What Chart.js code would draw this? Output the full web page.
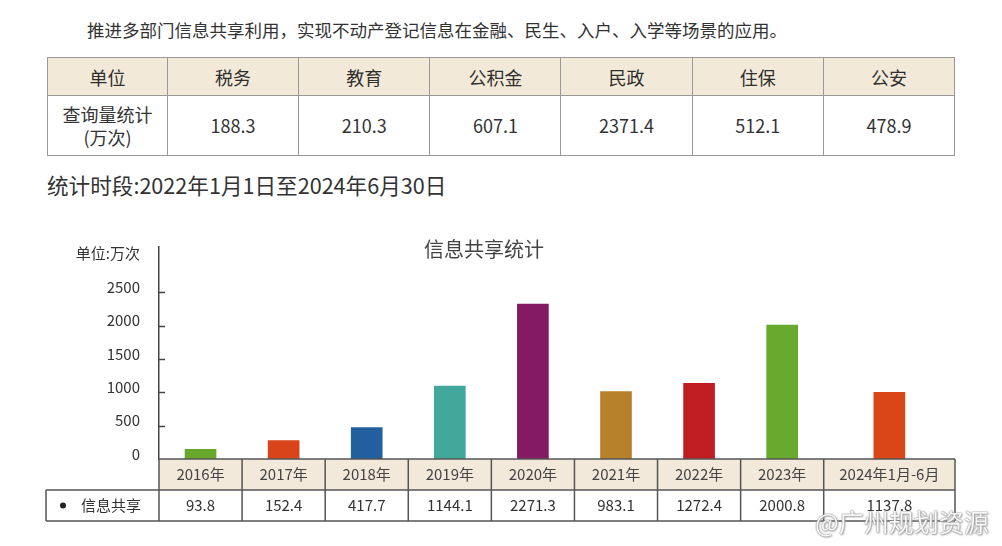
<!DOCTYPE html>
<html lang="zh-CN">
<head>
<meta charset="utf-8">
<title>信息共享统计</title>
<script src="https://cdn.jsdelivr.net/npm/chart.js@4.4.1/dist/chart.umd.min.js"></script>
<style>
    html, body { margin: 0; padding: 0; background: #fff; }
    body {
        width: 1002px; height: 546px; position: relative; overflow: hidden;
        font-family: "Noto Sans CJK SC", "Noto Sans", sans-serif; color: #333;
    }
    .intro { position: absolute; left: 87px; top: 17px; margin: 0; font-size: 17.5px; line-height: 26px; white-space: nowrap; }
    table.dept {
        position: absolute; left: 47px; top: 57px; width: 908px;
        border-collapse: collapse; table-layout: fixed; text-align: center; font-size: 18px;
    }
    table.dept th, table.dept td { border: 1.5px solid #999; padding: 0; }
    table.dept th { background: #f3e9d9; height: 37px; font-weight: normal; color: #2e2e2e; }
    table.dept td { height: 59px; line-height: 23px; }
    .period { position: absolute; left: 47px; top: 171px; margin: 0; font-size: 21.6px; line-height: 28px; white-space: nowrap; }
    #chartBox { position: absolute; left: 0; top: 215px; width: 1002px; height: 331px; }
    .mark {
        position: absolute; left: 815px; top: 505px; font-size: 25px; line-height: 32px;
        color: rgba(255, 255, 255, 0.95); text-shadow: 0 0 1px #777, 0 0 2px #999, 1px 1px 2px #aaa;
    }
</style>
</head>
<body>
<p class="intro">推进多部门信息共享利用，实现不动产登记信息在金融、民生、入户、入学等场景的应用。</p>
<table class="dept" id="deptTable"></table>
<p class="period">统计时段:2022年1月1日至2024年6月30日</p>
<div id="chartBox"><canvas id="chart"></canvas></div>
<div class="mark">@广州规划资源</div>

<script>
// Top table
const deptNames = ['税务', '教育', '公积金', '民政', '住保', '公安'];
const deptQueries = ['188.3', '210.3', '607.1', '2371.4', '512.1', '478.9'];

// Chart
const years = ['2016年', '2017年', '2018年', '2019年', '2020年', '2021年', '2022年', '2023年', '2024年1月-6月'];
const barValues = [146, 275, 470, 1095, 2325, 1010, 1135, 2010, 1000];   // bar heights as drawn
const tableValues = ['93.8', '152.4', '417.7', '1144.1', '2271.3', '983.1', '1272.4', '2000.8', '1137.8'];
const yTicks = [0, 500, 1000, 1500, 2000, 2500];

const barColors = ['#68a92d', '#d9441a', '#235f9f', '#41a89b', '#831a63', '#b7802a', '#c01d22', '#67aa2d', '#da4618'];
const FONT = '"Noto Sans CJK SC", "Noto Sans", sans-serif';

// Build the department table
const deptTable = document.getElementById('deptTable');
deptTable.innerHTML =
    '<colgroup><col style="width:120px">' + deptNames.map(() => '<col>').join('') + '</colgroup>' +
    '<tr><th>单位</th>' + deptNames.map(n => `<th>${n}</th>`).join('') + '</tr>' +
    '<tr><td>查询量统计<br>(万次)</td>' + deptQueries.map(v => `<td>${v}</td>`).join('') + '</tr>';

// Category scale whose last column is wider than the others
const CategoryScale = Chart.registry.getScale('category');
const LAST_COL = 1.58;

class ColumnScale extends CategoryScale {
    slotWidth() {
        return this.width / (this.max - this.min + LAST_COL);
    }
    getPixelForValue(value) {
        if (typeof value !== 'number') value = this.parse(value);
        const i = value - this.min, n = this.max - this.min, w = this.slotWidth();
        return this.left + (i < n ? (i + 0.5) * w : (n + LAST_COL / 2) * w);
    }
    columnEdges() {
        const n = this.max - this.min, w = this.slotWidth();
        const edges = [];
        for (let i = 0; i <= n; i++) edges.push(this.left + i * w);
        edges.push(this.right);
        return edges;
    }
}
ColumnScale.id = 'columns';
ColumnScale.defaults = CategoryScale.defaults;
Chart.register(ColumnScale);

// Title, unit, inward ticks and the data table under the bars
const extras = {
    id: 'extras',
    afterDraw(chart) {
        const { ctx, chartArea, scales: { x, y } } = chart;
        ctx.save();

        ctx.strokeStyle = '#444';
        ctx.lineWidth = 1.5;
        y.ticks.forEach(t => {
            if (t.value === 0) return;
            const py = Math.round(y.getPixelForValue(t.value)) + 0.5;
            ctx.beginPath();
            ctx.moveTo(chartArea.left, py);
            ctx.lineTo(chartArea.left + 6, py);
            ctx.stroke();
        });

        ctx.fillStyle = '#333';
        ctx.textBaseline = 'middle';
        ctx.font = `15px ${FONT}`;
        ctx.textAlign = 'right';
        ctx.fillText('单位:万次', 140, 38);

        ctx.fillStyle = '#444';
        ctx.font = `20px ${FONT}`;
        ctx.textAlign = 'center';
        ctx.fillText('信息共享统计', 484, 34);

        // table
        const edges = x.columnEdges();
        const top = chartArea.bottom, rowH = 31;
        const left = edges[0], right = edges[edges.length - 1];
        const legendLeft = 46;

        ctx.fillStyle = '#f3e9da';
        ctx.fillRect(left, top, right - left, rowH);

        ctx.strokeStyle = '#555';
        ctx.lineWidth = 1.5;
        ctx.beginPath();
        ctx.moveTo(left, top); ctx.lineTo(right, top);
        ctx.moveTo(legendLeft, top + rowH); ctx.lineTo(right, top + rowH);
        ctx.moveTo(legendLeft, top + rowH * 2); ctx.lineTo(right, top + rowH * 2);
        ctx.moveTo(legendLeft, top + rowH); ctx.lineTo(legendLeft, top + rowH * 2);
        edges.forEach(ex => {
            ctx.moveTo(ex, top); ctx.lineTo(ex, top + rowH * 2);
        });
        ctx.stroke();

        ctx.font = `15px ${FONT}`;
        ctx.textAlign = 'center';
        years.forEach((label, i) => {
            const cx = (edges[i] + edges[i + 1]) / 2;
            ctx.fillStyle = '#444';
            ctx.fillText(label, cx, top + rowH / 2);
            ctx.fillStyle = '#333';
            ctx.fillText(tableValues[i], cx, top + rowH * 1.5);
        });

        ctx.fillStyle = '#222';
        ctx.beginPath();
        ctx.arc(63, top + rowH * 1.5, 3, 0, Math.PI * 2);
        ctx.fill();
        ctx.textAlign = 'left';
        ctx.fillStyle = '#333';
        ctx.fillText('信息共享', 81, top + rowH * 1.5);

        ctx.restore();
    }
};

new Chart(document.getElementById('chart'), {
    type: 'bar',
    data: {
        labels: years,
        datasets: [{
            label: '信息共享',
            data: barValues,
            backgroundColor: barColors,
            borderWidth: 0,
            barThickness: 31
        }]
    },
    options: {
        responsive: true,
        maintainAspectRatio: false,
        animation: false,
        events: [],
        layout: { padding: { top: 32, right: 47, bottom: 87, left: 0 } },
        plugins: {
            legend: { display: false },
            tooltip: { enabled: false }
        },
        scales: {
            x: {
                type: 'columns',
                grid: { display: false, drawTicks: false },
                border: { display: false },
                ticks: { display: false }
            },
            y: {
                min: 0,
                max: 3180,
                afterBuildTicks: s => { s.ticks = yTicks.map(v => ({ value: v })); },
                afterFit: s => { s.width = 159; },
                grid: { display: false, drawTicks: false },
                border: { display: true, color: '#444', width: 1.5 },
                ticks: {
                    padding: 19,
                    labelOffset: -5,
                    color: '#333',
                    font: { family: FONT, size: 15 },
                    callback: v => String(v)
                }
            }
        }
    },
    plugins: [extras]
});
</script>
</body>
</html>
